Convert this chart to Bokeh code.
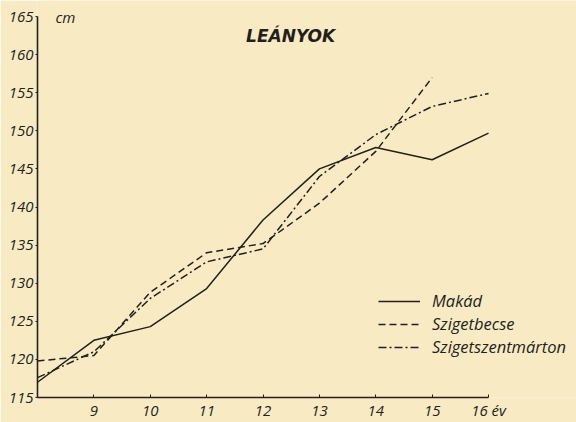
from bokeh.plotting import figure
from bokeh.models import Label, Legend, LegendItem, FixedTicker, Range1d
from bokeh.embed import file_html
from bokeh.resources import INLINE

# --- data ---
ages = [8, 9, 10, 11, 12, 13, 14, 15, 16]
makad = [117.0, 122.5, 124.3, 129.3, 138.3, 145.0, 147.8, 146.2, 149.7]
ages_becse = [8, 9, 10, 11, 12, 13, 14, 15]
szigetbecse = [119.8, 120.5, 128.8, 134.0, 135.2, 140.5, 147.3, 157.0]
szigetszentmarton = [117.6, 121.0, 128.0, 132.8, 134.5, 144.0, 149.5, 153.2, 154.9]
x_ticks = [9, 10, 11, 12, 13, 14, 15, 16]
y_ticks = [115, 120, 125, 130, 135, 140, 145, 150, 155, 160, 165]
series_names = ["Makád", "Szigetbecse", "Szigetszentmárton"]
title_text = "LEÁNYOK"
y_unit = "cm"
x_unit = "év"

PAPER = "#f8ebc4"
INK = "#221f1c"
FONT = "Open Sans"

p = figure(width=576, height=422, output_backend="svg", toolbar_location=None,
           x_range=Range1d(8, 17.56), y_range=Range1d(115, 167.1),
           min_border_left=37, min_border_right=0, min_border_top=0, min_border_bottom=25)
p.background_fill_color = PAPER
p.border_fill_color = PAPER
p.outline_line_color = None
p.grid.visible = False

for ax in (p.xaxis[0], p.yaxis[0]):
    ax.axis_line_color = INK
    ax.axis_line_width = 1.6
    ax.major_tick_line_color = INK
    ax.minor_tick_line_color = None
    ax.major_label_text_font = FONT
    ax.major_label_text_font_style = "italic"
    ax.major_label_text_color = INK
    ax.major_label_text_font_size = "15px"

p.xaxis.bounds = (8, 16)
p.xaxis.ticker = FixedTicker(ticks=x_ticks)
p.xaxis.major_label_overrides = {16: "16 " + x_unit}
p.xaxis.major_tick_in = 3
p.xaxis.major_tick_out = 0
p.xaxis.major_label_standoff = 2

p.yaxis.bounds = (115, 165)
p.yaxis.ticker = FixedTicker(ticks=y_ticks)
p.yaxis.major_tick_in = 0
p.yaxis.major_tick_out = 2
p.yaxis.major_label_standoff = 2

r1 = p.line(ages, makad, line_color=INK, line_width=1.5)
r2 = p.line(ages_becse, szigetbecse, line_color=INK, line_width=1.5, line_dash="7 4")
r3 = p.line(ages, szigetszentmarton, line_color=INK, line_width=1.5, line_dash="8 3 2 3")

legend = Legend(items=[LegendItem(label=series_names[0], renderers=[r1]),
                       LegendItem(label=series_names[1], renderers=[r2]),
                       LegendItem(label=series_names[2], renderers=[r3])],
                location=(341, 39))
legend.background_fill_alpha = 0
legend.border_line_color = None
legend.padding = 0
legend.margin = 0
legend.spacing = 0
legend.glyph_width = 42
legend.glyph_height = 22
legend.label_height = 22
legend.label_standoff = 12
legend.label_text_font = FONT
legend.label_text_font_style = "italic"
legend.label_text_font_size = "16.5px"
legend.label_text_color = INK
p.add_layout(legend)

p.add_layout(Label(x=12.49, y=162.5, text=title_text, text_align="center", text_baseline="middle",
                   text_font="DejaVu Sans", text_font_style="bold italic", text_font_size="17px",
                   text_color=INK))
p.add_layout(Label(x=8.32, y=165, text=y_unit, text_align="left", text_baseline="middle",
                   text_font=FONT, text_font_style="italic", text_font_size="15px",
                   text_color=INK))

open("out.html", "w").write(file_html(p, INLINE))
